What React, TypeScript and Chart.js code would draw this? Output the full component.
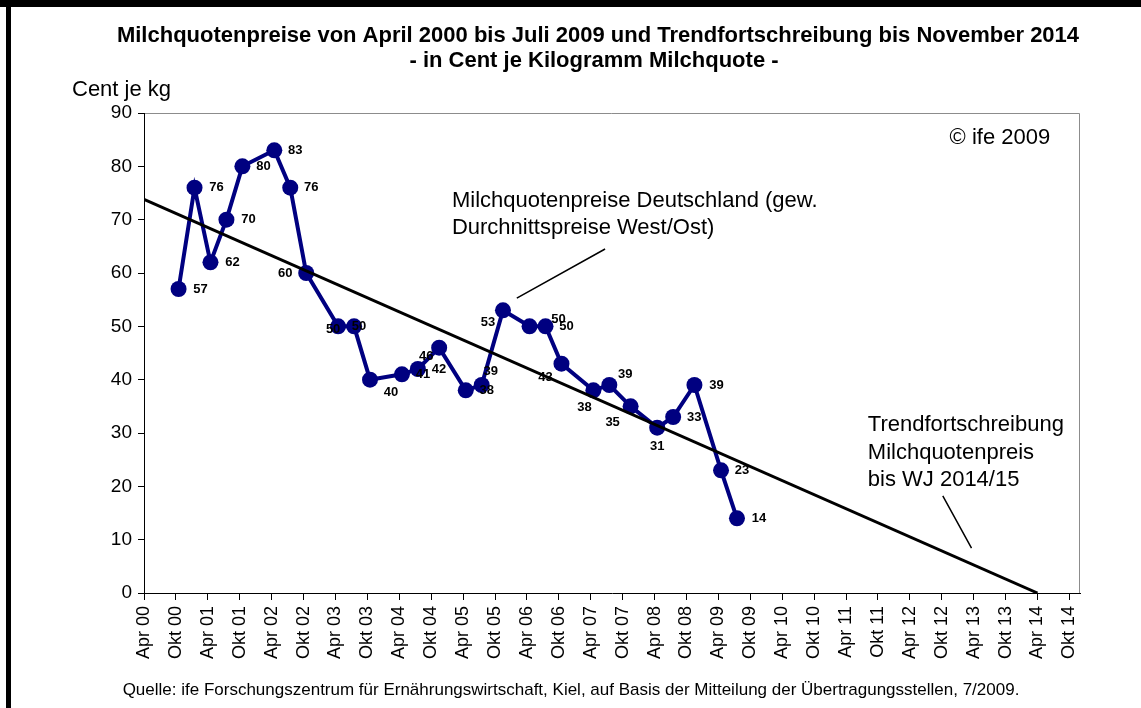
import React, { useEffect, useRef } from "react";
import { Chart, registerables } from "chart.js";

Chart.register(...registerables);

const FONT = '"Liberation Sans", Arial, Helvetica, sans-serif';

// ---- data ----
const tradeDates = [
  "2000-10", "2001-01", "2001-04", "2001-07", "2001-10", "2002-04", "2002-07",
  "2002-10", "2003-04", "2003-07", "2003-10", "2004-04", "2004-07", "2004-11",
  "2005-04", "2005-07", "2005-11", "2006-04", "2006-07", "2006-10", "2007-04",
  "2007-07", "2007-11", "2008-04", "2008-07", "2008-11", "2009-04", "2009-07",
];
const prices = [
  57, 76, 62, 70, 80, 83, 76, 60, 50, 50, 40, 41, 42, 46, 38, 39, 53, 50, 50, 43,
  38, 39, 35, 31, 33, 39, 23, 14,
];
const trendDates = ["2000-04", "2014-04"];
const trendValues = [73.8, 0];

const xTickLabels = [
  "Apr 00", "Okt 00", "Apr 01", "Okt 01", "Apr 02", "Okt 02", "Apr 03", "Okt 03",
  "Apr 04", "Okt 04", "Apr 05", "Okt 05", "Apr 06", "Okt 06", "Apr 07", "Okt 07",
  "Apr 08", "Okt 08", "Apr 09", "Okt 09", "Apr 10", "Okt 10", "Apr 11", "Okt 11",
  "Apr 12", "Okt 12", "Apr 13", "Okt 13", "Apr 14", "Okt 14",
];
const yMin = 0;
const yMax = 90;
const yStep = 10;

const titleLines = [
  "Milchquotenpreise von April 2000 bis Juli 2009 und Trendfortschreibung bis November 2014",
  "- in Cent je Kilogramm Milchquote -",
];
const yAxisTitle = "Cent je kg";
const sourceText =
  "Quelle: ife Forschungszentrum für Ernährungswirtschaft, Kiel, auf Basis der Mitteilung der Übertragungsstellen, 7/2009.";
const copyrightText = "© ife 2009";
const seriesNote = ["Milchquotenpreise Deutschland (gew.", "Durchnittspreise West/Ost)"];
const trendNote = ["Trendfortschreibung", "Milchquotenpreis", "bis WJ 2014/15"];

// ---- styling (label offsets in px relative to each point) ----
const labelOffsets: [number, number][] = [
  [22, 0], [22, 0], [22, 0], [22, 0], [21, 0], [21, 0], [21, 0], [-21, 0],
  [-5, 3], [5, 0], [21, 13], [21, 0], [21, 0], [-13, 9], [21, 0], [9, -14],
  [-15, 12], [29, -7], [21, 0], [-16, 14], [-9, 17], [16, -11], [-18, 16],
  [0, 19], [21, 0], [22, 0], [21, 0], [22, 0],
];

const AXIS_START_YEAR = 2000;
const AXIS_START_MONTH = 4;
const AXIS_MAX_MONTHS = 176;

function monthIndex(d: string): number {
  const [y, m] = d.split("-").map(Number);
  return (y - AXIS_START_YEAR) * 12 + (m - AXIS_START_MONTH);
}

export default function App() {
  const ref = useRef<HTMLCanvasElement | null>(null);

  useEffect(() => {
    document.body.style.margin = "0";
    const canvas = ref.current;
    if (!canvas) return;

    const mainData = tradeDates.map((d, i) => ({ x: monthIndex(d) + 0.5, y: prices[i] }));
    const trendData = trendDates.map((d, i) => ({ x: monthIndex(d), y: trendValues[i] }));

    const decor = {
      id: "decor",
      beforeDraw(chart: any) {
        const ctx = chart.ctx;
        ctx.save();
        ctx.fillStyle = "#fff";
        ctx.fillRect(0, 0, chart.width, chart.height);
        ctx.fillStyle = "#000";
        ctx.fillRect(0, 0, chart.width, 7);
        ctx.fillRect(6, 0, 5, chart.height);
        // plot area border (top/right)
        const a = chart.chartArea;
        ctx.strokeStyle = "#8c8c8c";
        ctx.lineWidth = 1;
        ctx.beginPath();
        ctx.moveTo(a.left, a.top + 0.5);
        ctx.lineTo(a.right - 0.5, a.top + 0.5);
        ctx.lineTo(a.right - 0.5, a.bottom);
        ctx.stroke();
        ctx.restore();
      },
      afterDatasetsDraw(chart: any) {
        const ctx = chart.ctx;
        const xs = chart.scales.x;
        const ys = chart.scales.y;
        ctx.save();
        // data labels
        const meta = chart.getDatasetMeta(1);
        ctx.font = `bold 13px ${FONT}`;
        ctx.fillStyle = "#000";
        ctx.textAlign = "center";
        ctx.textBaseline = "middle";
        meta.data.forEach((el: any, i: number) => {
          const [dx, dy] = labelOffsets[i] || [20, 0];
          ctx.fillText(String(prices[i]), el.x + dx, el.y + dy);
        });

        // annotations
        ctx.font = `22px ${FONT}`;
        ctx.textAlign = "left";
        seriesNote.forEach((t, i) => {
          ctx.fillText(t, xs.getPixelForValue(57.9), ys.getPixelForValue(73.6) + i * 27);
        });
        trendNote.forEach((t, i) => {
          ctx.fillText(t, xs.getPixelForValue(136.1), ys.getPixelForValue(31.5) + i * 27.5);
        });
        ctx.textAlign = "right";
        ctx.fillText(copyrightText, xs.getPixelForValue(170.4), ys.getPixelForValue(85.3));

        ctx.strokeStyle = "#000";
        ctx.lineWidth = 1.5;
        ctx.beginPath();
        ctx.moveTo(xs.getPixelForValue(86.7), ys.getPixelForValue(64.5));
        ctx.lineTo(xs.getPixelForValue(70.1), ys.getPixelForValue(55.3));
        ctx.moveTo(xs.getPixelForValue(150.2), ys.getPixelForValue(18.2));
        ctx.lineTo(xs.getPixelForValue(155.6), ys.getPixelForValue(8.4));
        ctx.stroke();
        ctx.restore();
      },
      afterDraw(chart: any) {
        const ctx = chart.ctx;
        ctx.save();
        ctx.fillStyle = "#000";
        ctx.textBaseline = "middle";
        ctx.textAlign = "center";
        ctx.font = `bold 22px ${FONT}`;
        ctx.fillText(titleLines[0], 598, 36);
        ctx.fillText(titleLines[1], 594, 61);
        ctx.textAlign = "left";
        ctx.font = `22px ${FONT}`;
        ctx.fillText(yAxisTitle, 72, 90);
        ctx.font = `17px ${FONT}`;
        ctx.textAlign = "center";
        ctx.fillText(sourceText, 571, 690);
        ctx.restore();
      },
    };

    const chart = new Chart(canvas, {
      type: "line",
      data: {
        datasets: [
          {
            label: "Trend",
            data: trendData,
            borderColor: "#000",
            borderWidth: 3,
            pointRadius: 0,
            fill: false,
            tension: 0,
          },
          {
            label: "Milchquotenpreise",
            data: mainData,
            borderColor: "#000080",
            backgroundColor: "#000080",
            borderWidth: 4,
            pointRadius: 8,
            pointBackgroundColor: "#000080",
            pointBorderWidth: 0,
            fill: false,
            tension: 0,
          },
        ],
      },
      options: {
        responsive: false,
        animation: false,
        devicePixelRatio: 1,
        layout: { padding: { top: 113, right: 61, left: 0, bottom: 0 } },
        plugins: {
          legend: { display: false },
          title: { display: false },
          tooltip: { enabled: false },
        },
        scales: {
          x: {
            type: "linear",
            min: 0,
            max: AXIS_MAX_MONTHS,
            afterBuildTicks: (s: any) => {
              s.ticks = xTickLabels.map((_, i) => ({ value: i * 6 }));
            },
            afterFit: (s: any) => {
              s.height = 115;
            },
            grid: { drawOnChartArea: false, drawTicks: true, tickLength: 7, color: "#000" },
            border: { color: "#000", width: 1 },
            ticks: {
              autoSkip: false,
              maxRotation: 90,
              minRotation: 90,
              padding: 6,
              color: "#000",
              font: { family: FONT, size: 18 },
              callback: (_v: any, i: number) => xTickLabels[i],
            },
          },
          y: {
            min: yMin,
            max: yMax,
            afterFit: (s: any) => {
              s.width = 144;
            },
            grid: { drawOnChartArea: false, drawTicks: true, tickLength: 6, color: "#000" },
            border: { color: "#000", width: 1 },
            ticks: {
              stepSize: yStep,
              padding: 6,
              color: "#000",
              font: { family: FONT, size: 19 },
            },
          },
        },
      },
      plugins: [decor],
    });

    return () => chart.destroy();
  }, []);

  return (
    <div style={{ position: "absolute", left: 0, top: 0, width: 1141, height: 708 }}>
      <canvas ref={ref} width={1141} height={708} />
    </div>
  );
}
